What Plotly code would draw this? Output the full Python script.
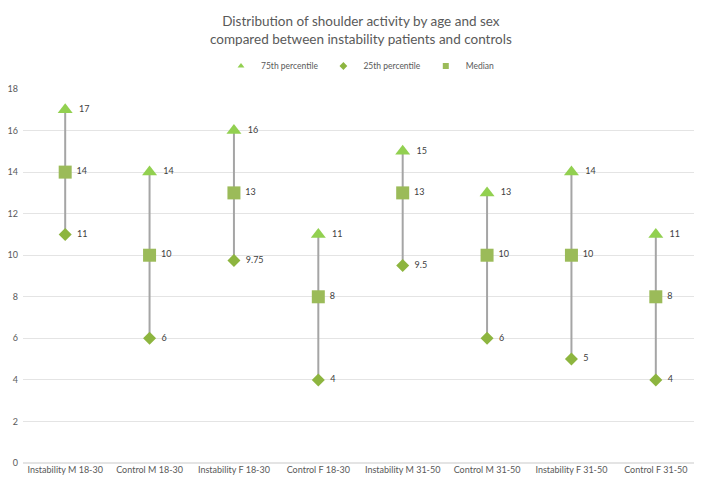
import plotly.graph_objects as go

categories = ["Instability M 18-30", "Control M 18-30", "Instability F 18-30", "Control F 18-30",
              "Instability M 31-50", "Control M 31-50", "Instability F 31-50", "Control F 31-50"]
p75 = [17, 14, 16, 11, 15, 13, 14, 11]
p25 = [11, 6, 9.75, 4, 9.5, 6, 5, 4]
median = [14, 10, 13, 8, 13, 10, 10, 8]
series_names = ["75th percentile", "25th percentile", "Median"]

FONT = "Lato, sans-serif"
C75, C25, CMED = "#92D050", "#8DB53F", "#9BBB59"

fig = go.Figure()

# high-low lines
lx, ly = [], []
for c, lo, hi in zip(categories, p25, p75):
    lx += [c, c, None]
    ly += [lo, hi, None]
fig.add_trace(go.Scatter(x=lx, y=ly, mode="lines", line=dict(color="#A5A5A5", width=2),
                         showlegend=False, hoverinfo="skip"))

lab_font = dict(family=FONT, size=9, color="#404040")

def fmt(v):
    return ("%g" % v)

fig.add_trace(go.Scatter(x=categories, y=p75, mode="markers+text", name=series_names[0], showlegend=False,
                         marker=dict(symbol="triangle-up", size=13, color=C75),
                         text=["  " + fmt(v) for v in p75], textposition="middle right",
                         textfont=lab_font))
fig.add_trace(go.Scatter(x=categories, y=p25, mode="markers+text", name=series_names[1], showlegend=False,
                         marker=dict(symbol="diamond", size=10, color=C25),
                         text=["  " + fmt(v) for v in p25], textposition="middle right",
                         textfont=lab_font))
fig.add_trace(go.Scatter(x=categories, y=median, mode="markers+text", name=series_names[2], showlegend=False,
                         marker=dict(symbol="square", size=13, color=CMED),
                         text=[" " + fmt(v) for v in median], textposition="middle right",
                         textfont=lab_font))

# legend entries with small markers
for nm, sym, col in zip(series_names, ["triangle-up", "diamond", "square"], [C75, C25, CMED]):
    fig.add_trace(go.Scatter(x=[None], y=[None], mode="markers", name=nm,
                             marker=dict(symbol=sym, size=6, color=col)))

fig.add_annotation(text="Distribution of shoulder activity by age and sex<br>compared between instability patients and controls",
                   xref="paper", yref="paper", x=0.5, y=1, yshift=78, xanchor="center", yanchor="top",
                   showarrow=False, font=dict(family=FONT, size=13.5, color="#595959"))

fig.update_layout(
    width=694, height=476,
    paper_bgcolor="white", plot_bgcolor="white",
    margin=dict(l=15, r=4, t=81, b=21),
    font=dict(family=FONT, color="#595959"),
    legend=dict(orientation="h", x=0.5, xanchor="center", yref="container", y=1 - 58 / 476, yanchor="middle",
                font=dict(size=8.5, color="#595959"), itemsizing="trace", itemwidth=30),
    xaxis=dict(type="category", showgrid=False, showline=False, ticks="", automargin=False,
               tickfont=dict(family=FONT, size=9, color="#595959"), range=[-0.5, 7.5]),
    yaxis=dict(range=[0, 18], dtick=2, showgrid=True, gridcolor="#E4E4E4", gridwidth=1,
               zeroline=True, zerolinecolor="#E4E4E4", showline=False, ticks="", automargin=False,
               ticklabelstandoff=4,
               tickfont=dict(family=FONT, size=9, color="#595959")),
)

fig.write_html("out.html")
